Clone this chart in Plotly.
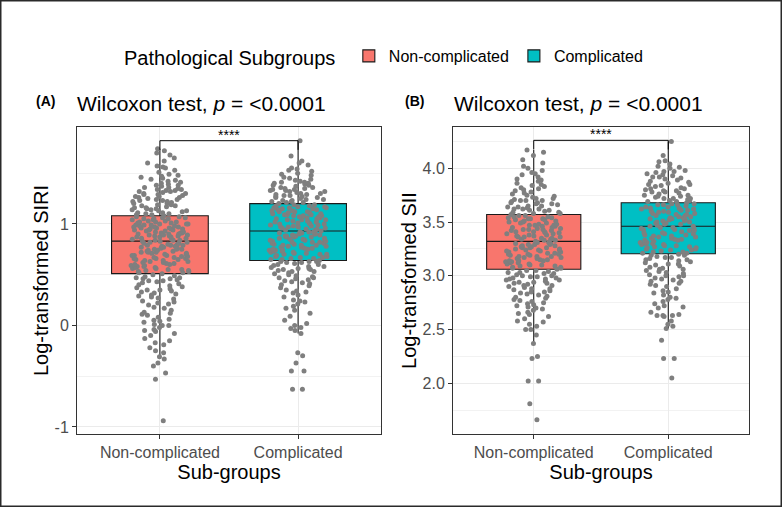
import plotly.graph_objects as go

# ---------------- data ----------------
categories = ["Non-complicated", "Complicated"]
colors = ["#F8766D", "#00BFC4"]

# Panel A: log-transformed SIRI
siri_non = [-0.94, -0.53, -0.47, -0.40, -0.37, -0.33, -0.31, -0.27, -0.25, -0.22, -0.19, -0.17, -0.15, -0.13,
            -0.10, -0.08, -0.05, -0.04, -0.02, 0.00, 0.00, 0.01, 0.03, 0.05, 0.06, 0.08, 0.10, 0.11, 0.13, 0.15,
            0.17, 0.18, 0.20, 0.21, 0.23, 0.24, 0.26, 0.27, 0.28, 0.30, 0.31, 0.32, 0.34, 0.35, 0.36, 0.38, 0.39,
            0.40, 0.41, 0.43, 0.44, 0.45, 0.46, 0.47, 0.48, 0.49, 0.50,
            0.51, 0.52, 0.53, 0.54, 0.55, 0.56, 0.57, 0.58, 0.59, 0.60, 0.61, 0.62, 0.62, 0.63, 0.64, 0.65, 0.66,
            0.66, 0.67, 0.68, 0.69, 0.70, 0.70, 0.71, 0.72, 0.73, 0.73, 0.74, 0.75, 0.76, 0.76, 0.77, 0.78, 0.78,
            0.79, 0.80, 0.80, 0.81, 0.82, 0.82, 0.83, 0.55, 0.60, 0.64, 0.68, 0.72, 0.75, 0.79,
            0.84, 0.84, 0.85, 0.86, 0.86, 0.87, 0.88, 0.88, 0.89, 0.90, 0.90, 0.91, 0.92, 0.92, 0.93, 0.94, 0.94,
            0.95, 0.96, 0.96, 0.97, 0.98, 0.98, 0.99, 1.00, 1.00, 1.01, 1.02, 1.02, 1.03, 1.04, 1.04, 1.05, 1.06,
            1.06, 1.07, 1.08, 0.87, 0.91, 0.95, 0.99, 1.03, 0.89, 0.97,
            1.09, 1.10, 1.11, 1.12, 1.13, 1.14, 1.15, 1.16, 1.17, 1.18, 1.19, 1.20, 1.21, 1.22, 1.23, 1.24, 1.25,
            1.26, 1.27, 1.28, 1.29, 1.30, 1.31, 1.32, 1.33, 1.34, 1.35, 1.36, 1.37, 1.38, 1.40, 1.41, 1.42, 1.44,
            1.45, 1.47, 1.49, 1.51, 1.53, 1.55, 1.57, 1.60, 1.62, 1.65, 1.68, 1.70, 1.72, 1.74, 1.14, 1.20, 1.27,
            1.33,
            0.22, 0.29, 0.33, 0.37, 0.42, 0.46, 0.52, 0.54, 0.56, 0.58, 0.61, 0.63, 0.65, 0.67, 0.69, 0.71, 0.74,
            0.77, 0.81, 0.85, 0.87, 0.89, 0.91, 0.93, 0.95, 0.97, 1.00, 1.02, 1.05, 1.07, 1.10, 1.13, 1.16, 1.19,
            1.22, 1.26, 1.30, 1.34, 1.38, 1.43, 1.48, 1.56, 0.12, 0.04, -0.06, 0.35, 0.44, 0.57, 0.66, 0.72, 0.79,
            0.84, 0.90, 0.96, 1.01, 1.09, 1.15, 1.23, 1.29, 1.36, 1.46, 0.47, 0.53, 0.59, 0.69, 0.75, 0.83, 0.88,
            0.94, 0.99, 1.05, 1.11, 1.18, 1.24, 1.32, 1.39]
siri_com = [-0.63, -0.63, -0.45, -0.45, -0.37, -0.30, -0.27, -0.08, -0.05, -0.03, -0.02, 0.00, 0.02, 0.05,
            0.09, 0.12, 0.15, 0.17, 0.19, 0.21, 0.23, 0.25, 0.28, 0.30, 0.32, 0.34, 0.35, 0.37, 0.39, 0.40, 0.42,
            0.43, 0.45, 0.46, 0.47, 0.48, 0.50, 0.51, 0.52, 0.53, 0.54, 0.55, 0.56, 0.57, 0.58, 0.59, 0.60, 0.61,
            0.62, 0.63, 0.63,
            0.64, 0.65, 0.66, 0.67, 0.68, 0.69, 0.70, 0.71, 0.72, 0.72, 0.73, 0.74, 0.75, 0.76, 0.76, 0.77, 0.78,
            0.79, 0.79, 0.80, 0.81, 0.82, 0.82, 0.83, 0.84, 0.85, 0.85, 0.86, 0.87, 0.87, 0.88, 0.89, 0.89, 0.90,
            0.91, 0.91, 0.92, 0.93, 0.66, 0.70, 0.74, 0.78, 0.81, 0.84, 0.88, 0.92,
            0.94, 0.95, 0.96, 0.97, 0.97, 0.98, 0.99, 1.00, 1.01, 1.01, 1.02, 1.03, 1.04, 1.05, 1.05, 1.06, 1.07,
            1.08, 1.09, 1.09, 1.10, 1.11, 1.12, 1.13, 1.13, 1.14, 1.15, 1.16, 1.17, 1.17, 1.18, 1.19, 1.20, 0.96,
            1.00, 1.04, 1.08, 1.12, 1.16,
            1.21, 1.22, 1.23, 1.24, 1.25, 1.26, 1.27, 1.28, 1.29, 1.30, 1.31, 1.32, 1.33, 1.34, 1.35, 1.36, 1.37,
            1.38, 1.39, 1.40, 1.41, 1.42, 1.43, 1.45, 1.46, 1.48, 1.50, 1.52, 1.54, 1.55, 1.58, 1.60, 1.62, 1.67,
            1.82, 1.24, 1.30, 1.36,
            0.24, 0.33, 0.41, 0.44, 0.49, 0.53, 0.56, 0.60, 0.62, 0.65, 0.68, 0.71, 0.73, 0.75, 0.77, 0.80, 0.83,
            0.86, 0.88, 0.90, 0.92, 0.95, 0.98, 1.00, 1.03, 1.06, 1.08, 1.10, 1.12, 1.15, 1.18, 1.21, 1.23, 1.26,
            1.29, 1.32, 1.35, 1.38, 1.41, 1.44, 1.49, 1.53, 0.58, 0.67, 0.74, 0.82, 0.87, 0.94, 0.99, 1.02, 1.07,
            1.11, 1.14, 1.19, 1.27, 1.33, 0.47, 0.55, 0.63, 0.70, 0.79, 0.85, 0.90, 0.97, 1.04, 1.09, 1.16, 1.22,
            1.28, 1.34, 1.40]

# Panel B: log-transformed SII
sii_non = [1.66, 1.81, 2.02, 2.02, 2.23, 2.25, 2.37, 2.45, 2.50, 2.50, 2.53, 2.55, 2.57, 2.60, 2.62, 2.64, 2.66,
           2.68, 2.70, 2.71, 2.73, 2.74, 2.76, 2.77, 2.79, 2.80, 2.82, 2.83, 2.84, 2.86, 2.87, 2.88, 2.89, 2.90,
           2.91, 2.92, 2.93, 2.94, 2.95, 2.96, 2.97, 2.98, 2.99, 3.00, 3.01, 3.02, 3.03, 3.04, 3.05, 2.72, 2.85,
           2.96,
           3.06, 3.07, 3.08, 3.09, 3.10, 3.11, 3.12, 3.12, 3.13, 3.14, 3.15, 3.16, 3.16, 3.17, 3.18, 3.19, 3.20,
           3.20, 3.21, 3.22, 3.23, 3.24, 3.24, 3.25, 3.26, 3.27, 3.27, 3.28, 3.29, 3.30, 3.30, 3.31, 3.32, 3.09,
           3.14, 3.18, 3.22, 3.26, 3.29,
           3.33, 3.34, 3.35, 3.35, 3.36, 3.37, 3.38, 3.39, 3.39, 3.40, 3.41, 3.42, 3.43, 3.43, 3.44, 3.45, 3.46,
           3.47, 3.47, 3.48, 3.49, 3.50, 3.51, 3.51, 3.52, 3.53, 3.54, 3.55, 3.55, 3.56, 3.57, 3.36, 3.41, 3.45,
           3.49, 3.53,
           3.58, 3.59, 3.60, 3.61, 3.62, 3.63, 3.64, 3.65, 3.66, 3.67, 3.68, 3.69, 3.70, 3.71, 3.72, 3.73, 3.75,
           3.76, 3.78, 3.79, 3.81, 3.82, 3.84, 3.86, 3.88, 3.90, 3.92, 3.94, 3.96, 3.98, 4.00, 4.02, 4.05, 4.08,
           4.12, 4.15, 4.17, 3.62, 3.70, 3.80,
           2.58, 2.65, 2.69, 2.75, 2.78, 2.81, 2.85, 2.88, 2.91, 2.94, 2.97, 3.00, 3.02, 3.05, 3.08, 3.11, 3.14,
           3.17, 3.19, 3.21, 3.23, 3.26, 3.28, 3.31, 3.34, 3.37, 3.40, 3.42, 3.44, 3.46, 3.48, 3.50, 3.53, 3.56,
           3.59, 3.62, 3.65, 3.68, 3.72, 3.77, 3.83, 3.89, 3.95, 2.98, 3.03, 3.10, 3.15, 3.20, 3.25, 3.33, 3.38,
           3.43, 3.52, 3.58, 3.64, 3.70, 2.93, 2.99, 3.07, 3.13, 3.18, 3.24, 3.29, 3.36, 3.41, 3.47, 3.54, 3.61,
           3.67, 3.74, 3.85]
sii_com = [2.05, 2.23, 2.23, 2.40, 2.51, 2.53, 2.55, 2.58, 2.62, 2.63, 2.63, 2.64, 2.66, 2.70, 2.72, 2.74, 2.76,
           2.78, 2.80, 2.82, 2.84, 2.86, 2.88, 2.90, 2.92, 2.93, 2.95, 2.96, 2.98, 2.99, 3.00, 3.02, 3.03, 3.04,
           3.06, 3.07, 3.08, 3.10, 3.11, 3.12, 3.14, 3.15, 3.16, 3.17, 3.18, 3.19, 3.20,
           3.21, 3.22, 3.23, 3.24, 3.25, 3.26, 3.27, 3.28, 3.29, 3.30, 3.31, 3.32, 3.33, 3.34, 3.35, 3.36, 3.37,
           3.38, 3.39, 3.40, 3.41, 3.42, 3.43, 3.44, 3.45, 3.46, 3.25, 3.30, 3.34, 3.38, 3.42, 3.45, 3.28, 3.36,
           3.47, 3.48, 3.49, 3.50, 3.51, 3.52, 3.53, 3.54, 3.55, 3.56, 3.57, 3.58, 3.59, 3.60, 3.61, 3.62, 3.63,
           3.64, 3.65, 3.66, 3.67, 3.68, 3.50, 3.54, 3.58, 3.62, 3.66, 3.52, 3.60, 3.64,
           3.69, 3.70, 3.71, 3.72, 3.73, 3.74, 3.75, 3.76, 3.78, 3.79, 3.80, 3.82, 3.83, 3.85, 3.87, 3.88, 3.90,
           3.92, 3.94, 3.95, 3.97, 3.98, 4.00, 4.02, 4.04, 4.06, 4.07, 4.12, 4.25, 3.72, 3.77, 3.81, 3.86, 3.91,
           3.96,
           2.63, 2.71, 2.79, 2.85, 2.91, 2.97, 3.01, 3.05, 3.09, 3.13, 3.17, 3.21, 3.24, 3.27, 3.31, 3.35, 3.39,
           3.43, 3.46, 3.49, 3.53, 3.56, 3.59, 3.63, 3.66, 3.69, 3.72, 3.75, 3.78, 3.81, 3.85, 3.89, 3.93, 3.97,
           4.01, 2.95, 3.06, 3.15, 3.22, 3.29, 3.37, 3.44, 3.51, 3.57, 3.61, 3.67, 3.74, 3.84, 3.92, 3.26, 3.33,
           3.40, 3.48, 3.55, 3.62, 3.70, 3.79, 3.00, 3.11, 3.19]

# box statistics
siri_q1 = [0.51, 0.64]
siri_median = [0.83, 0.93]
siri_q3 = [1.08, 1.20]
siri_lower = [-0.33, -0.08]
siri_upper = [1.74, 1.82]

sii_q1 = [3.06, 3.205]
sii_median = [3.32, 3.46]
sii_q3 = [3.57, 3.68]
sii_lower = [2.37, 2.51]
sii_upper = [4.17, 4.25]

bracket_siri = 1.82
bracket_sii = 4.26
siri_ticks = [-1, 0, 1]
siri_ticktext = ["-1", "0", "1"]
siri_minor = [-0.5, 0.5, 1.5]
sii_ticks = [2.0, 2.5, 3.0, 3.5, 4.0]
sii_minor = [1.75, 2.25, 2.75, 3.25, 3.75, 4.25]

# ---------------- layout helpers (pixel -> paper) ----------------
W_FIG, H_FIG = 782, 507
L, R, T, B = 77, 749, 127, 434
def px(x):
    return (x - L) / (R - L)
def py(y):
    return (B - y) / (B - T)

FONT = "Liberation Sans, Arial, sans-serif"

fig = go.Figure()

panels = [
    ("x", "y", siri_non, siri_com, siri_q1, siri_median, siri_q3, siri_lower, siri_upper, True),
    ("x2", "y2", sii_non, sii_com, sii_q1, sii_median, sii_q3, sii_lower, sii_upper, False),
]
for xa, ya, vnon, vcom, q1, med, q3, lo, up, showleg in panels:
    for i, cat in enumerate(categories):
        fig.add_trace(go.Box(
            x=[cat], q1=[q1[i]], median=[med[i]], q3=[q3[i]],
            lowerfence=[lo[i]], upperfence=[up[i]],
            name=cat, legendgroup=cat, showlegend=showleg,
            fillcolor=colors[i], line=dict(color="#1a1a1a", width=1.1),
            whiskerwidth=0, width=0.7, boxpoints=False,
            xaxis=xa, yaxis=ya, hoverinfo="skip",
        ))
    for i, (cat, vals) in enumerate(zip(categories, [vnon, vcom])):
        fig.add_trace(go.Box(
            x=[cat] * len(vals), y=vals, name=cat, showlegend=False,
            boxpoints="all", jitter=1, pointpos=0, width=0.42,
            fillcolor="rgba(0,0,0,0)", line=dict(color="rgba(0,0,0,0)", width=0),
            whiskerwidth=0,
            marker=dict(color="#7F7F7F", size=5, line=dict(width=0)),
            xaxis=xa, yaxis=ya,
        ))

axis_common = dict(
    showline=True, mirror=True, linecolor="#333333", linewidth=1,
    ticks="outside", ticklen=4, tickcolor="#333333",
    showgrid=True, gridcolor="#EBEBEB", gridwidth=1,
    tickfont=dict(family=FONT, size=16, color="#4D4D4D"),
    zeroline=False,
)
xcommon = dict(axis_common, type="category", categoryorder="array", categoryarray=categories,
               range=[-0.6, 1.6],
               title=dict(text="Sub-groups", font=dict(family=FONT, size=20, color="#000000"), standoff=2))

fig.update_layout(
    width=W_FIG, height=H_FIG, autosize=False,
    margin=dict(l=L, r=W_FIG - R, t=T, b=H_FIG - B, pad=0),
    paper_bgcolor="white", plot_bgcolor="white",
    boxmode="overlay", hovermode=False,
    font=dict(family=FONT, color="#000000"),
    xaxis=dict(xcommon, domain=[0, px(381)], anchor="y"),
    xaxis2=dict(xcommon, domain=[px(453), 1], anchor="y2"),
    yaxis=dict(axis_common, anchor="x", range=[-1.07, 1.955], tickmode="array", tickvals=siri_ticks,
               ticktext=siri_ticktext,
               minor=dict(tickmode="array", tickvals=siri_minor, showgrid=True, gridcolor="#F2F2F2", gridwidth=1),
               title=dict(text="Log-transformed SIRI", font=dict(family=FONT, size=20, color="#000000"), standoff=0)),
    yaxis2=dict(axis_common, anchor="x2", range=[1.528, 4.384], tickmode="array", tickvals=sii_ticks,
                tickformat=".1f",
                minor=dict(tickmode="array", tickvals=sii_minor, showgrid=True, gridcolor="#F2F2F2", gridwidth=1),
                title=dict(text="Log-transformed SII", font=dict(family=FONT, size=20, color="#000000"), standoff=0)),
    legend=dict(orientation="h", x=px(122), y=py(57), xanchor="left", yanchor="middle",
                bgcolor="rgba(0,0,0,0)",
                title=dict(text="Pathological Subgroups ", font=dict(family=FONT, size=20, color="#000000")),
                font=dict(family=FONT, size=16, color="#000000")),
    showlegend=True,
)

annotations = [
    dict(text="<b>(A)</b>", x=px(45), y=py(101), xref="paper", yref="paper", showarrow=False,
         font=dict(family=FONT, size=14, color="#000000"), xanchor="center", yanchor="middle"),
    dict(text="<b>(B)</b>", x=px(414), y=py(101), xref="paper", yref="paper", showarrow=False,
         font=dict(family=FONT, size=14, color="#000000"), xanchor="center", yanchor="middle"),
    dict(text="Wilcoxon test, <i>p</i> = &lt;0.0001", x=px(75), y=py(104), xref="paper", yref="paper",
         showarrow=False, font=dict(family=FONT, size=21, color="#000000"), xanchor="left", yanchor="middle"),
    dict(text="Wilcoxon test, <i>p</i> = &lt;0.0001", x=px(452), y=py(104), xref="paper", yref="paper",
         showarrow=False, font=dict(family=FONT, size=21, color="#000000"), xanchor="left", yanchor="middle"),
    dict(text="****", x=0.5, y=bracket_siri, xref="x", yref="y", showarrow=False,
         font=dict(family=FONT, size=14, color="#000000"), xanchor="center", yanchor="bottom", yshift=-4),
    dict(text="****", x=0.5, y=bracket_sii, xref="x2", yref="y2", showarrow=False,
         font=dict(family=FONT, size=14, color="#000000"), xanchor="center", yanchor="bottom", yshift=-4),
]
fig.update_layout(annotations=annotations)

shapes = []
for xr, yr, by, tip in [("x", "y", bracket_siri, 0.09), ("x2", "y2", bracket_sii, 0.085)]:
    line = dict(color="#000000", width=1)
    shapes.append(dict(type="line", xref=xr, yref=yr, x0=0, x1=1, y0=by, y1=by, line=line))
    shapes.append(dict(type="line", xref=xr, yref=yr, x0=0, x1=0, y0=by, y1=by - tip, line=line))
    shapes.append(dict(type="line", xref=xr, yref=yr, x0=1, x1=1, y0=by, y1=by - tip, line=line))
# outer frame of the figure image
shapes.append(dict(type="rect", xref="paper", yref="paper", x0=px(0), x1=px(W_FIG), y0=py(H_FIG), y1=py(0),
                   line=dict(color="#2a2a2a", width=3), fillcolor="rgba(0,0,0,0)", layer="above"))
fig.update_layout(shapes=shapes)

fig.write_html("out.html", config={"displayModeBar": False},
               post_script="document.body.style.margin='0';")
